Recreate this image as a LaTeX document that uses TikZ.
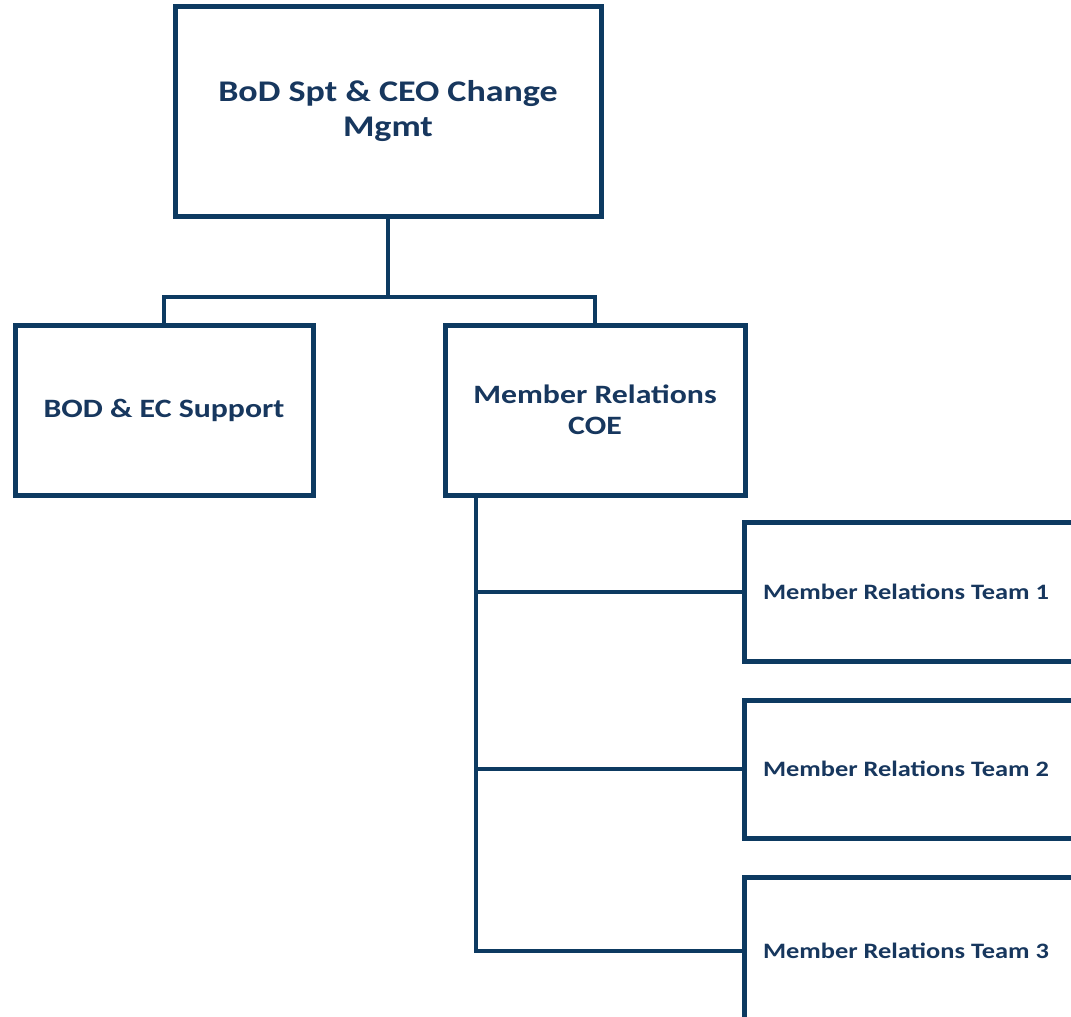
\documentclass[tikz,border=0pt]{standalone}
\usepackage{fontspec}
\setmainfont{Carlito}[FakeStretch=1.2]
\usetikzlibrary{shadows}
\definecolor{navy}{HTML}{0D3A61}
\definecolor{inkblue}{HTML}{17375E}
\tikzset{
  orgbox/.style={draw=navy, line width=5pt, fill=white, align=center,
    text=inkblue, font=\bfseries, inner sep=0pt,
    drop shadow={opacity=0.25, shadow xshift=2pt, shadow yshift=-3pt}},
  bigtext/.style={font=\bfseries\fontsize{30}{35}\selectfont},
  midtext/.style={font=\bfseries\fontsize{26.5}{31}\selectfont},
  smalltext/.style={font=\bfseries\fontsize{22}{26}\selectfont},
  link/.style={draw=navy, line width=4pt}
}
\begin{document}
\begin{tikzpicture}[x=1pt, y=-1pt]
\path[use as bounding box] (0,0) rectangle (1071,1017);
\clip (0,0) rectangle (1071,1017);

% boxes
\node[orgbox, bigtext, minimum width=426pt, minimum height=210pt] (top) at (388,111)
  {BoD Spt \& CEO Change\\Mgmt};
\node[orgbox, midtext, minimum width=298pt, minimum height=170pt] (bod) at (164,410)
  {BOD \& EC Support};
\node[orgbox, midtext, minimum width=300pt, minimum height=170pt] (coe) at (595,410)
  {Member Relations\\COE};
\node[orgbox, smalltext, minimum width=336pt, minimum height=139pt] (t1) at (912,591.5)
  {Member Relations Team 1\kern12pt};
\node[orgbox, smalltext, minimum width=336pt, minimum height=138pt] (t2) at (912,769)
  {Member Relations Team 2\kern12pt};
\node[orgbox, smalltext, minimum width=336pt, minimum height=148pt] (t3) at (912,951)
  {Member Relations Team 3\kern12pt};

% connectors
\coordinate (bus) at (388,297);
\coordinate (spine) at (476,495);
\draw[link] (top.south) -- (bus);
\draw[link] (bus) -| (bod.north);
\draw[link] (bus) -| (coe.north);
\draw[link] (spine) |- (t3.west);
\draw[link] (spine |- t1.west) -- (t1.west);
\draw[link] (spine |- t2.west) -- (t2.west);
\end{tikzpicture}
\end{document}
